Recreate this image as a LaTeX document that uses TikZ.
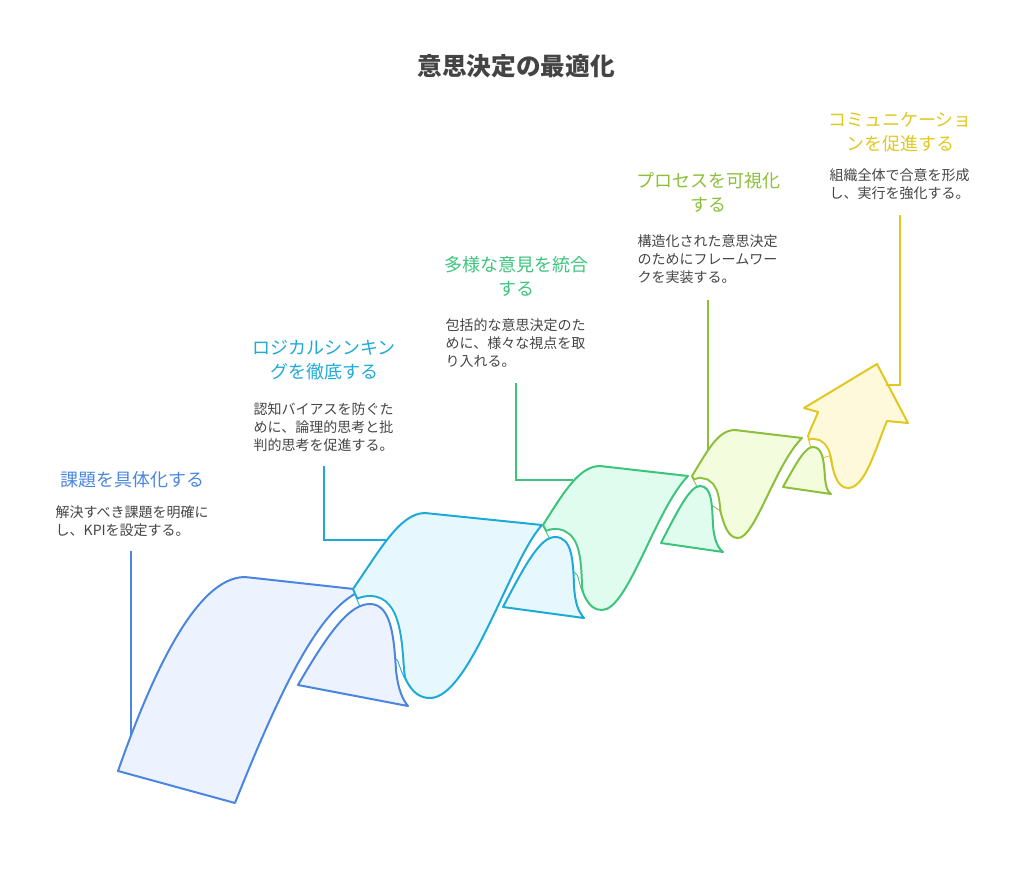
\documentclass[tikz,border=0pt]{standalone}
\usepackage{fontspec}
\setmainfont{Noto Sans CJK JP}
\usetikzlibrary{positioning}

\definecolor{cBlue}{HTML}{4A86E0}   \definecolor{fBlue}{HTML}{ECF3FE}
\definecolor{cCyan}{HTML}{1EAAD8}   \definecolor{fCyan}{HTML}{E6F8FE}
\definecolor{cGreen}{HTML}{3CC47C}  \definecolor{fGreen}{HTML}{E0FCEE}
\definecolor{cLime}{HTML}{8CBF3A}   \definecolor{fLime}{HTML}{F3FDDE}
\definecolor{cYel}{HTML}{E0C820}    \definecolor{fYel}{HTML}{FEF9DA}
\definecolor{txt}{HTML}{444444}

% ribbon outlines, in pixel units
\newcommand\faceA{(118,771) .. controls (150,680) and (195,577) .. (245,577) -- (363,590) .. controls (325,605) and (290,665) .. (235,803) -- cycle}
\newcommand\lobeA{(298,685) .. controls (330,630) and (350,604) .. (370,604) .. controls (392,604) and (394,640) .. (396,670) .. controls (398,690) and (403,700) .. (408,706) -- cycle}
\newcommand\faceB{(353,589) .. controls (380,550) and (400,513) .. (425,513) -- (542,525) .. controls (510,560) and (470,698) .. (430,698) .. controls (412,698) and (405,680) .. (398,660) -- (375,640) -- cycle}
\newcommand\lobeB{(503,607) .. controls (525,565) and (540,537) .. (555,537) .. controls (572,537) and (573,560) .. (574,585) .. controls (575,605) and (579,612) .. (584,618) -- cycle}
\newcommand\faceC{(543,525) .. controls (565,490) and (580,466) .. (600,466) -- (688,476) .. controls (655,510) and (628,610) .. (602,610) .. controls (588,610) and (583,595) .. (578,575) -- (562,560) -- cycle}
\newcommand\lobeC{(661,543) .. controls (678,510) and (690,486) .. (700,486) .. controls (712,486) and (712,505) .. (713,525) .. controls (714,540) and (718,548) .. (723,552) -- cycle}
\newcommand\faceD{(692,476) .. controls (708,450) and (718,430) .. (735,430) -- (802,438) .. controls (775,465) and (755,538) .. (738,538) .. controls (728,538) and (724,525) .. (720,510) -- (705,500) -- cycle}
\newcommand\lobeD{(783,487) .. controls (797,462) and (805,447) .. (813,447) .. controls (823,447) and (824,462) .. (825,478) .. controls (826,488) and (828,492) .. (831,494) -- cycle}
\newcommand\arrowE{(808,436) .. controls (812,425) and (816,418) .. (818,412) -- (804,408) -- (877,364) -- (908,423) -- (887,421) .. controls (875,450) and (865,488) .. (848,488) .. controls (836,488) and (833,470) .. (830,455) -- (815,460) -- cycle}

\tikzset{
  ribbon/.style={draw=#1, line width=1.5pt, line join=round},
  band/.style={draw=#1, line width=13.5pt},
  gap/.style={draw=white, line width=10.5pt},
  leader/.style={draw=#1, line width=1.5pt},
  heading/.style={text=#1, align=center, font=\fontsize{13.5}{18}\selectfont},
  desc/.style={text=txt, align=left, anchor=west, font=\fontsize{10.5}{13.5}\selectfont}
}

\begin{document}
\begin{tikzpicture}[x=0.75pt,y=-0.75pt]
  \useasboundingbox (0,0) rectangle (1032,876);

  \node[text=txt, font=\fontsize{18.5}{22}\selectfont\bfseries] (title) at (516,66) {意思決定の最適化};

  % ribbon, back to front
  \draw[ribbon=cBlue, fill=fBlue] \faceA;
  \draw[ribbon=cCyan, fill=fCyan] \faceB;
  \begin{scope}
    \clip \faceB;
    \draw[band=cCyan] \lobeA;
    \draw[gap] \lobeA;
  \end{scope}
  \draw[ribbon=cBlue, fill=fBlue] \lobeA;

  \draw[ribbon=cGreen, fill=fGreen] \faceC;
  \begin{scope}
    \clip \faceC;
    \draw[band=cGreen] \lobeB;
    \draw[gap] \lobeB;
  \end{scope}
  \draw[ribbon=cCyan, fill=fCyan] \lobeB;

  \draw[ribbon=cLime, fill=fLime] \faceD;
  \begin{scope}
    \clip \faceD;
    \draw[band=cLime] \lobeC;
    \draw[gap] \lobeC;
  \end{scope}
  \draw[ribbon=cGreen, fill=fGreen] \lobeC;

  \draw[ribbon=cYel, fill=fYel] \arrowE;
  \begin{scope}
    \clip \arrowE;
    \draw[band=cYel] \lobeD;
    \draw[gap] \lobeD;
  \end{scope}
  \draw[ribbon=cLime, fill=fLime] \lobeD;

  % labels
  \node[heading=cBlue]  (h1) at (132,480) {課題を具体化する};
  \node[desc]           (d1) at (51,521)  {解決すべき課題を明確に\\し、KPIを設定する。};
  \node[heading=cCyan]  (h2) at (324,360) {ロジカルシンキン\\グを徹底する};
  \node[desc]           (d2) at (249,427) {認知バイアスを防ぐた\\めに、論理的思考と批\\判的思考を促進する。};
  \node[heading=cGreen] (h3) at (516,276) {多様な意見を統合\\する};
  \node[desc]           (d3) at (441,343) {包括的な意思決定のた\\めに、様々な視点を取\\り入れる。};
  \node[heading=cLime]  (h4) at (708,192) {プロセスを可視化\\する};
  \node[desc]           (d4) at (633,259) {構造化された意思決定\\のためにフレームワー\\クを実装する。};
  \node[heading=cYel]   (h5) at (900,132) {コミュニケーショ\\ンを促進する};
  \node[desc]           (d5) at (825,184) {組織全体で合意を形成\\し、実行を強化する。};

  % leaders
  \coordinate (l1a) at (131,551); \coordinate (l1b) at (131,735);
  \coordinate (l2a) at (324,466); \coordinate (l2b) at (387,540);
  \coordinate (l3a) at (516,383); \coordinate (l3b) at (573,480);
  \coordinate (l4a) at (708,300); \coordinate (l4b) at (708,450);
  \coordinate (l5a) at (900,215); \coordinate (l5b) at (886,385);
  \draw[leader=cBlue]  (l1a) -- (l1b);
  \draw[leader=cCyan]  (l2a) |- (l2b);
  \draw[leader=cGreen] (l3a) |- (l3b);
  \draw[leader=cLime]  (l4a) -- (l4b);
  \draw[leader=cYel]   (l5a) |- (l5b);
\end{tikzpicture}
\end{document}
